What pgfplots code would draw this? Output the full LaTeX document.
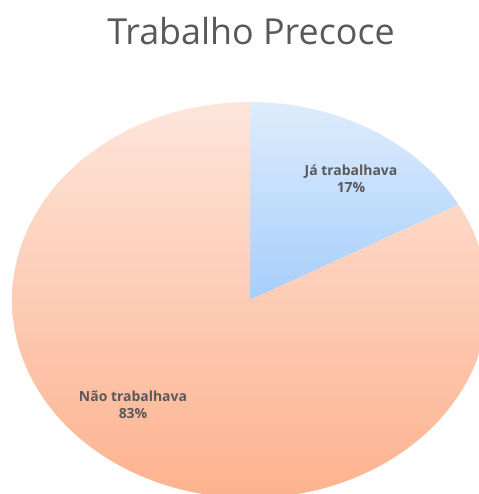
\documentclass[border=0pt]{standalone}
\usepackage{pgfplots}
\pgfplotsset{compat=1.18}
\usepackage{pgfplotstable}
\usepackage{fontspec}
\setmainfont{Open Sans}
\definecolor{titlegray}{HTML}{595959}
\definecolor{labgray}{HTML}{595959}
\definecolor{bluetop}{HTML}{DEECFC}
\definecolor{bluebot}{HTML}{A6CEFC}
\definecolor{orgtop}{HTML}{FDE5DB}
\definecolor{orgbot}{HTML}{FDB28E}
\pgfplotstableread{
label value
Ja 17
Nao 83
}\pietable
\pgfplotstablegetelem{0}{value}\of\pietable \let\vA\pgfplotsretval
\pgfplotstablegetelem{1}{value}\of\pietable \let\vB\pgfplotsretval
\pgfmathsetmacro{\aEnd}{90-360*\vA/(\vA+\vB)}
\pgfmathsetmacro{\aEndB}{\aEnd+360}
\begin{document}
\begin{tikzpicture}
\begin{axis}[
  scale only axis, width=479bp, height=494bp,
  xmin=0, xmax=479, ymin=0, ymax=494,
  hide axis, clip=true,
]
% Ja trabalhava slice
\addplot[draw=none, top color=bluetop, bottom color=bluebot,
  domain=\aEnd:90, samples=80, variable=\t]
  ({250+238*cos(\t)}, {194+198*sin(\t)}) -- (axis cs:250,194) -- cycle;
% Nao trabalhava slice
\addplot[draw=none, top color=orgtop, bottom color=orgbot,
  domain=90:\aEndB, samples=200, variable=\t]
  ({250+238*cos(\t)}, {194+198*sin(\t)}) -- (axis cs:250,194) -- cycle;
\node[text=titlegray, font=\fontsize{36}{40}\selectfont] at (axis cs:251,463) {Trabalho Precoce};
\node[text=labgray, font=\fontsize{14}{17}\selectfont\bfseries, align=center] at (axis cs:351,315) {Já trabalhava\\17\%};
\node[text=labgray, font=\fontsize{14}{17}\selectfont\bfseries, align=center] at (axis cs:133,89) {Não trabalhava\\83\%};
\end{axis}
\pgfresetboundingbox
\useasboundingbox (current axis.south west) rectangle (current axis.north east);
\end{tikzpicture}
\end{document}
